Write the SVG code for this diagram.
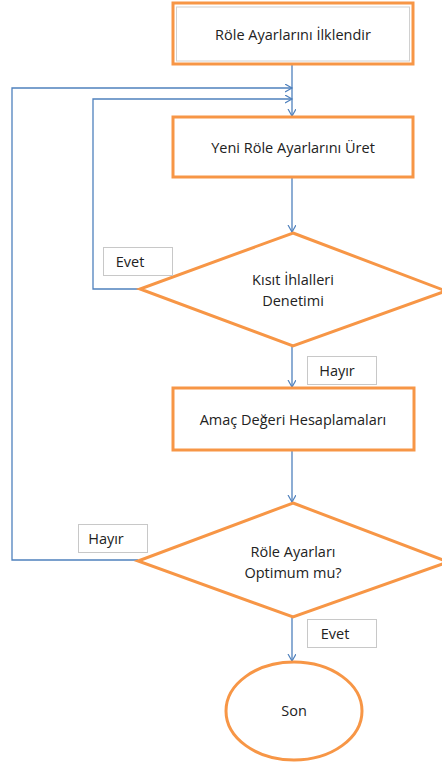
<svg xmlns="http://www.w3.org/2000/svg" width="442" height="764" viewBox="0 0 442 764">
<defs>
<marker id="arr" markerWidth="10" markerHeight="10" refX="7" refY="4" orient="auto" markerUnits="userSpaceOnUse">
<path d="M0,0 L7,4 L0,8" fill="none" stroke="#4F81BD" stroke-width="1.2"/>
</marker>
<style>
.shape{fill:#fff;stroke:#F79646;stroke-width:3}
.inner{fill:none;stroke:#D0D0D0;stroke-width:1}
.conn{fill:none;stroke:#4F81BD;stroke-width:1.3;marker-end:url(#arr)}
.lbl{fill:#fff;stroke:#C8C8C8;stroke-width:1}
text{font-family:"Open Sans","Liberation Sans",sans-serif;font-size:14.5px;fill:#222;text-anchor:middle}
</style>
</defs>
<rect width="442" height="764" fill="#fff"/>
<g id="connectors">
<path class="conn" d="M292,64 L292,116"/>
<path class="conn" d="M138,560 L12,560 L12,88 L292,88"/>
<path class="conn" d="M140,289 L93,289 L93,99 L292,99"/>
<path class="conn" d="M292,177 L292,232"/>
<path class="conn" d="M292,346 L292,387"/>
<path class="conn" d="M292,450 L292,502"/>
<path class="conn" d="M292,617 L292,661"/>
</g>
<g id="n1">
<rect class="shape" x="173" y="3" width="240" height="61"/>
<rect class="inner" x="176.5" y="7" width="233" height="54"/>
<text x="293" y="40">Röle Ayarlarını İlklendir</text>
</g>
<g id="n2">
<rect class="shape" x="173" y="117" width="240" height="60"/>
<text x="293" y="153">Yeni Röle Ayarlarını Üret</text>
</g>
<g id="n3">
<polygon class="shape" points="293,233 446,291 293,346 140,289"/>
<text x="293" y="285">Kısıt İhlalleri</text>
<text x="293" y="306">Denetimi</text>
</g>
<g id="l1">
<rect class="lbl" x="103.5" y="247.5" width="69" height="28"/>
<text x="130" y="267">Evet</text>
</g>
<g id="l2">
<rect class="lbl" x="307.5" y="356.5" width="69" height="28"/>
<text x="337" y="376">Hayır</text>
</g>
<g id="n4">
<rect class="shape" x="173" y="388" width="241" height="62"/>
<text x="293" y="425">Amaç Değeri Hesaplamaları</text>
</g>
<g id="n5">
<polygon class="shape" points="293,503 448,562 293,617 138,561"/>
<text x="293" y="557">Röle Ayarları</text>
<text x="293" y="578">Optimum mu?</text>
</g>
<g id="l3">
<rect class="lbl" x="78.5" y="524.5" width="69" height="28"/>
<text x="106" y="544">Hayır</text>
</g>
<g id="l4">
<rect class="lbl" x="307.5" y="619.5" width="69" height="28"/>
<text x="335" y="639">Evet</text>
</g>
<g id="n6">
<ellipse class="shape" cx="294" cy="711" rx="68" ry="49"/>
<text x="294" y="716">Son</text>
</g>
</svg>
